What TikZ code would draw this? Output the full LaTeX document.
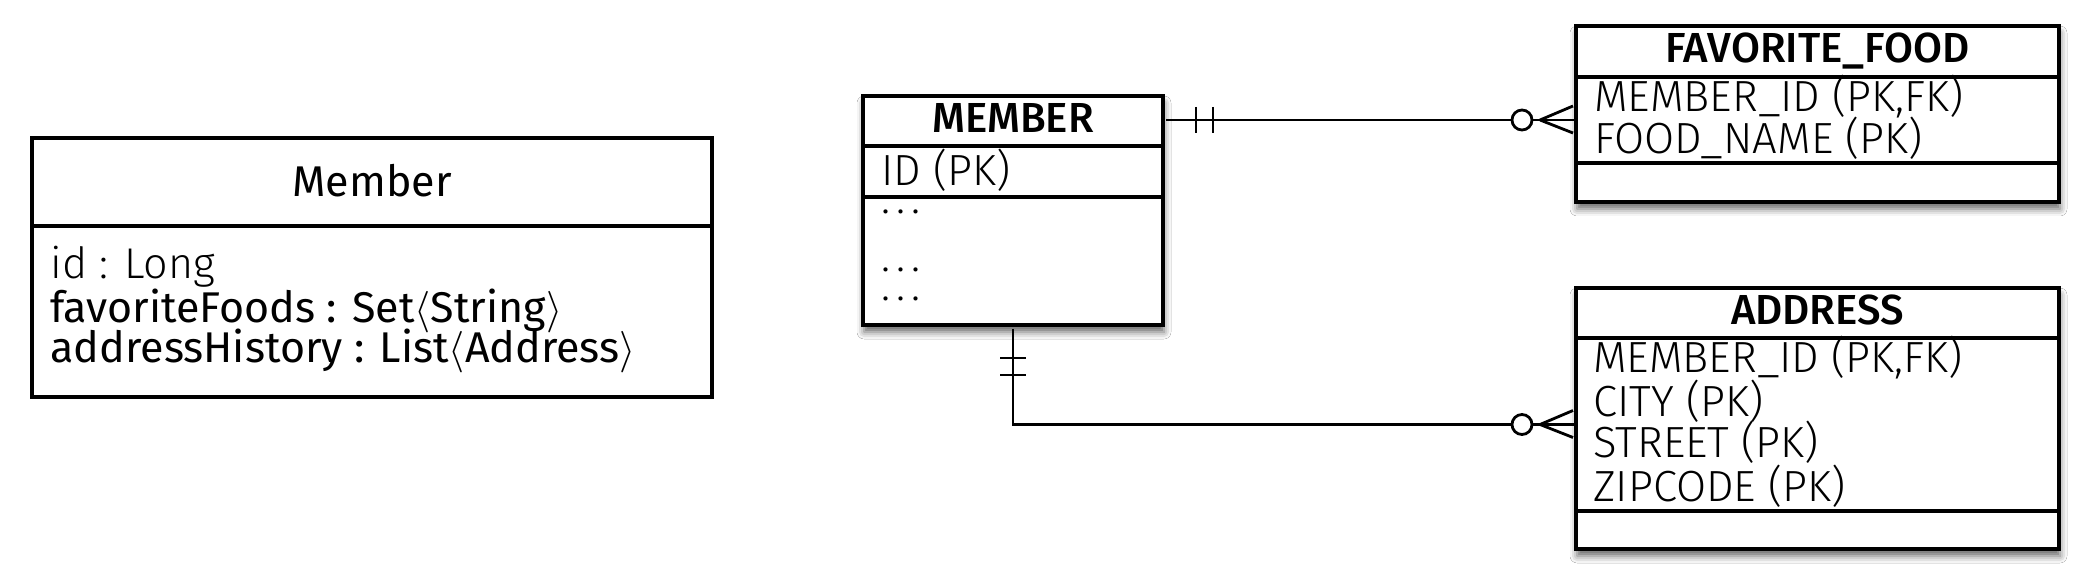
\documentclass[tikz,border=0pt]{standalone}
\usepackage{fontspec}
\setmainfont{Fira Sans}
\newfontfamily\lightfont{Fira Sans Light}
\newfontfamily\medfont{Fira Sans Medium}
\usetikzlibrary{calc,shadows.blur}
\tikzset{
  box/.style={draw, line width=1.65pt, inner sep=0pt, outer sep=0pt},
  ent/.style={box, fill=white, blur shadow={shadow xshift=0.5pt, shadow yshift=-3.5pt, shadow blur radius=3.5pt, shadow opacity=60}},
  conn/.style={line width=1.4pt},
  lt/.style={font=\lightfont\fontsize{21.8pt}{14.5pt}\selectfont, inner sep=0pt, anchor=base west},
  rg/.style={font=\fontsize{21.5pt}{24pt}\selectfont, inner sep=0pt, anchor=base west},
  ttl/.style={font=\medfont\fontsize{21pt}{24pt}\selectfont, inner sep=0pt, anchor=base},
  umlttl/.style={font=\fontsize{21.5pt}{24pt}\selectfont, inner sep=0pt, anchor=base},
}
\begin{document}
\begin{tikzpicture}[x=0.5pt,y=-0.5pt]
\useasboundingbox[fill=white] (0,0) rectangle (2090,588);

% ---------- UML class Member ----------
\node[box, minimum width=340pt, minimum height=129.5pt] (uml) at (372,267.5) {};
\node[box, minimum width=340pt, minimum height=44pt] (umlH) at (372,182) {};
\node[umlttl] (umlT) at (372,197) {Member};
\node[lt, font=\lightfont\fontsize{21.5pt}{24pt}\selectfont] (umlA1) at (50,279) {id : Long};
\node[rg] (umlA2) at (50,323) {favoriteFoods : Set\(\langle\)String\(\rangle\)};
\node[rg] (umlA3) at (50,363) {addressHistory : List\(\langle\)Address\(\rangle\)};

% ---------- MEMBER entity ----------
\node[ent, minimum width=150pt, minimum height=114.5pt] (memberE) at (1013,210.5) {};
\node[box, minimum width=150pt, minimum height=25pt] (memberH) at (1013,121) {};
\node[box, minimum width=150pt, minimum height=25.5pt] (memberA) at (1013,171.5) {};
\node[ttl] (memberT) at (1013,133) {MEMBER};
\node[lt] (memberA1) at (881,186) {ID (PK)};
\node[lt, align=left, anchor=north west] (memberD) at (881,209)
  {.\kern3pt.\kern3pt.\\ \mbox{}\\ .\kern3pt.\kern3pt.\\ .\kern3pt.\kern3pt.};

% ---------- FAVORITE_FOOD entity ----------
\node[ent, minimum width=241.5pt, minimum height=88pt] (ffE) at (1817.5,114) {};
\node[box, minimum width=241.5pt, minimum height=25.5pt] (ffH) at (1817.5,51.5) {};
\node[box, minimum width=241.5pt, minimum height=43pt] (ffA) at (1817.5,120) {};
\node[ttl] (ffT) at (1817.5,63) {FAVORITE\_FOOD};
\node[lt] (ffA1) at (1594,112) {MEMBER\_ID (PK,FK)};
\node[lt] (ffA2) at (1594,154) {FOOD\_NAME (PK)};

% ---------- ADDRESS entity ----------
\node[ent, minimum width=241.5pt, minimum height=130.5pt] (adE) at (1817.5,418.5) {};
\node[box, minimum width=241.5pt, minimum height=25pt] (adH) at (1817.5,313) {};
\node[box, minimum width=241.5pt, minimum height=86.5pt] (adA) at (1817.5,424.5) {};
\node[ttl] (adT) at (1817.5,325) {ADDRESS};
\node[lt] (adA1) at (1593,372) {MEMBER\_ID (PK,FK)};
\node[lt] (adA2) at (1593,416) {CITY (PK)};
\node[lt] (adA3) at (1593,458) {STREET (PK)};
\node[lt] (adA4) at (1593,502) {ZIPCODE (PK)};

% ---------- connector MEMBER -- FAVORITE_FOOD ----------
\coordinate (s1) at ($(memberH.east)+(3,-1)$);
\coordinate (e1) at (s1 -| ffA.west);
\draw[conn] (s1) -- (e1);
\draw[conn] ($(s1)+(30,-13)$) -- ($(s1)+(30,13)$);
\draw[conn] ($(s1)+(47,-13)$) -- ($(s1)+(47,13)$);
\draw[conn] ($(e1)+(-36,0)$) -- ($(e1)+(-3,-14)$);
\draw[conn] ($(e1)+(-36,0)$) -- ($(e1)+(-3,13)$);
\draw[conn, fill=white] ($(e1)+(-54,0)$) circle[radius=5pt];

% ---------- connector MEMBER -- ADDRESS ----------
\coordinate (s2) at ($(memberE.south)+(0,4)$);
\coordinate (e2) at (adA.west);
\draw[conn] (s2) -- (s2 |- e2) -- (e2);
\draw[conn] ($(s2)+(-13,29)$) -- ($(s2)+(13,29)$);
\draw[conn] ($(s2)+(-13,46)$) -- ($(s2)+(13,46)$);
\draw[conn] ($(e2)+(-36,0)$) -- ($(e2)+(-3,-14)$);
\draw[conn] ($(e2)+(-36,0)$) -- ($(e2)+(-3,13)$);
\draw[conn, fill=white] ($(e2)+(-54,0)$) circle[radius=5pt];
\end{tikzpicture}
\end{document}
